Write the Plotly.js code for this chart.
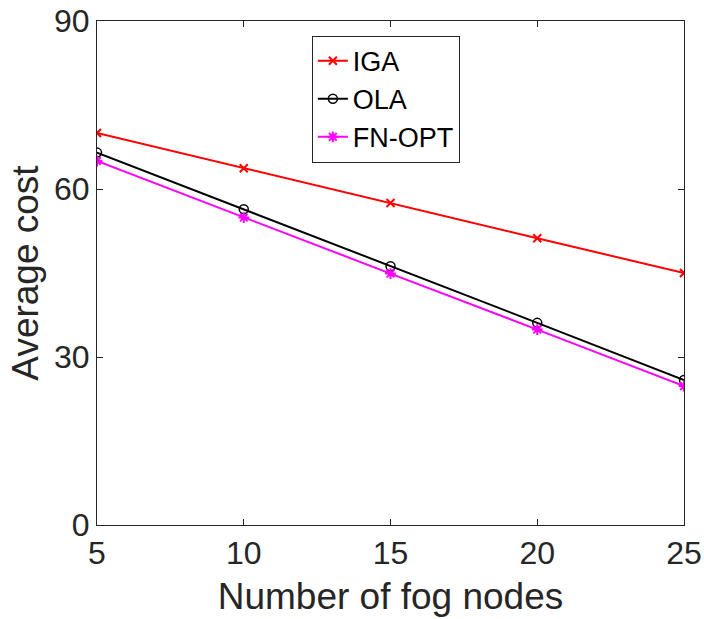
<!DOCTYPE html>
<html>
<head>
<meta charset="utf-8">
<script src="https://cdn.plot.ly/plotly-3.0.1.min.js"></script>
<style>html,body{margin:0;padding:0;background:#fff;}#chart{width:704px;height:619px;}</style>
</head>
<body>
<div id="chart"></div>
<script>
const fogNodes = [5, 10, 15, 20, 25];
const igaCost = [70.0, 63.7, 57.5, 51.2, 45.0];
const olaCost = [66.5, 56.4, 46.2, 36.1, 25.9];
const fnOptCost = [65.0, 54.9, 44.9, 34.9, 24.8];
const xTicks = [5, 10, 15, 20, 25];
const yTicks = [0, 30, 60, 90];

const font = 'Liberation Sans, Arial, Helvetica, sans-serif';
const axisColor = '#262626';

const traces = [
  {x: fogNodes, y: igaCost, name: 'IGA', mode: 'lines+markers',
   line: {color: '#ff0000', width: 2},
   marker: {symbol: 'x-thin-open', size: 8, color: '#ff0000', line: {color: '#ff0000', width: 2}}},
  {x: fogNodes, y: olaCost, name: 'OLA', mode: 'lines+markers',
   line: {color: '#000000', width: 2},
   marker: {symbol: 'circle-open', size: 9, color: '#000000', line: {color: '#000000', width: 1.5}}},
  {x: fogNodes, y: fnOptCost, name: 'FN-OPT', mode: 'lines+markers',
   line: {color: '#ff00ff', width: 2},
   marker: {symbol: 'asterisk-open', size: 9, color: '#ff00ff', line: {color: '#ff00ff', width: 2}}}
];

const layout = {
  width: 704, height: 619,
  margin: {l: 97, r: 20, t: 21, b: 94},
  paper_bgcolor: '#ffffff', plot_bgcolor: '#ffffff',
  font: {family: font, color: axisColor},
  showlegend: true,
  legend: {
    x: 0.366, y: 0.845, xanchor: 'left', yanchor: 'middle',
    bordercolor: axisColor, borderwidth: 1, bgcolor: '#ffffff',
    font: {family: font, size: 27, color: '#000000'},
    tracegroupgap: 0, itemwidth: 30
  },
  xaxis: {
    range: [5, 25], tickvals: xTicks, ticktext: xTicks.map(String),
    ticks: 'inside', ticklen: 6, tickcolor: axisColor, tickwidth: 1,
    showline: true, linecolor: axisColor, linewidth: 1, mirror: 'ticks',
    showgrid: false, zeroline: false,
    tickfont: {family: font, size: 32, color: axisColor},
    title: {text: 'Number of fog nodes', font: {family: font, size: 37, color: axisColor}, standoff: 12},
    automargin: false
  },
  yaxis: {
    range: [0, 90], tickvals: yTicks, ticktext: yTicks.map(String),
    ticks: 'inside', ticklen: 6, tickcolor: axisColor, tickwidth: 1,
    showline: true, linecolor: axisColor, linewidth: 1, mirror: 'ticks',
    showgrid: false, zeroline: false,
    tickfont: {family: font, size: 32, color: axisColor},
    title: {text: 'Average cost', font: {family: font, size: 37, color: axisColor}, standoff: 4},
    automargin: false
  }
};

Plotly.newPlot('chart', traces, layout, {displayModeBar: false, staticPlot: true});
</script>
</body>
</html>
